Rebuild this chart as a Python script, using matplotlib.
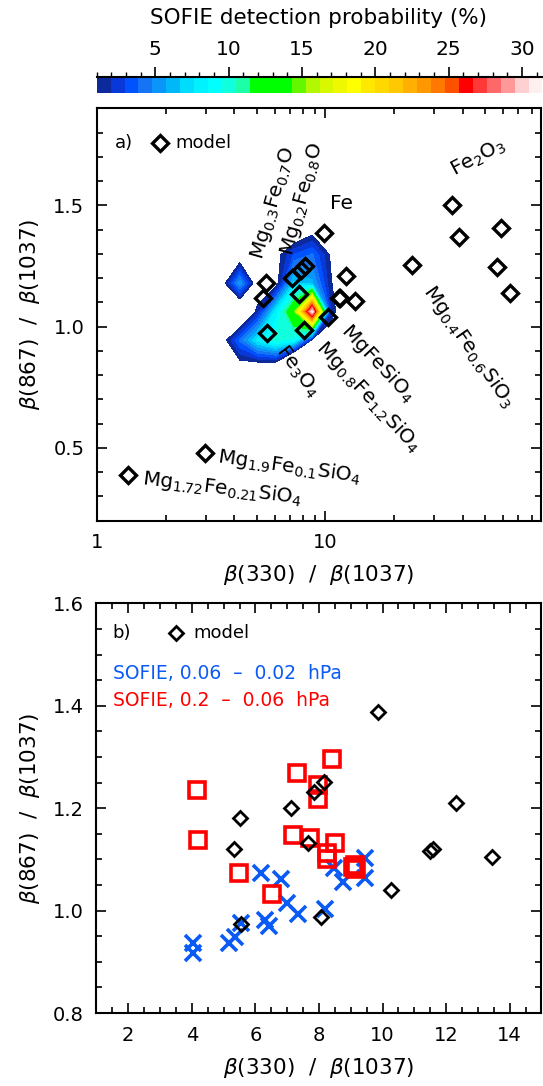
import matplotlib
matplotlib.use('Agg')
import matplotlib.pyplot as plt
import numpy as np
from matplotlib.ticker import MultipleLocator, FixedLocator, NullFormatter, FuncFormatter

plt.rcParams['font.family'] = ['DejaVu Sans']
plt.rcParams['mathtext.fontset'] = 'dejavusans'

# model ratios (both panels)
model_x = [1.37, 2.98, 5.33, 5.50, 5.54, 7.12, 7.66, 7.84, 8.16, 8.06, 9.86,
           10.28, 11.49, 11.59, 12.30, 13.45, 24.0, 35.9, 38.4, 56.6, 58.6, 64.3]
model_y = [0.389, 0.478, 1.120, 1.180, 0.974, 1.200, 1.133, 1.232, 1.251, 0.988, 1.388,
           1.040, 1.117, 1.120, 1.210, 1.105, 1.254, 1.502, 1.371, 1.247, 1.406, 1.138]

# SOFIE 0.06 - 0.02 hPa
blue_x = [4.04, 4.04, 5.17, 5.35, 5.56, 6.30, 6.43, 6.19, 6.79, 7.00, 7.35,
          8.20, 8.47, 8.76, 9.44, 9.44]
blue_y = [0.936, 0.917, 0.936, 0.949, 0.975, 0.982, 0.969, 1.073, 1.061, 1.014, 0.993,
          1.004, 1.083, 1.056, 1.102, 1.063]

# SOFIE 0.2 - 0.06 hPa
red_x = [8.40, 7.31, 4.17, 7.98, 7.98, 4.20, 7.19, 7.71, 8.50, 8.24, 8.24,
         9.07, 9.16, 9.12, 5.49, 6.51]
red_y = [1.296, 1.268, 1.236, 1.246, 1.218, 1.138, 1.148, 1.141, 1.132, 1.112, 1.100,
         1.086, 1.081, 1.090, 1.073, 1.032]

# detection probability (%) on a coarse grid
grid_x = [2.93, 3.52, 4.22, 5.06, 6.07, 7.28, 8.75, 10.5, 12.6]
grid_y = [0.710, 0.827, 0.944, 1.062, 1.179, 1.296, 1.413, 1.530]
prob = [
    [0, 0, 0, 0, 0, 0, 0, 0, 0],
    [0, 0, -0.3, -1.1, -1.7, -10.3, -3, -1, 0],
    [0, 0, 4, 8, 10, 9, 0.5, -1, -1],
    [0, 0, -2.6, 1.6, 8, 14, 31, 2.2, -2],
    [0, 0, 5.5, -0.8, 0.2, 7, 6, 1.2, -1],
    [0, 0, -0.7, 0, 0.3, 3, 4, 0.9, -1],
    [0, 0, 0, 0, -1, -2, -0.3, -0.5, 0],
    [0, 0, 0, 0, 0, 0, 0, 0, 0],
]

band_colors = ['#0c2a9c', '#0838d8', '#0052ff', '#1474f4', '#0a96f8', '#00b8f8',
               '#00dcfc', '#00f2ff', '#00ffff', '#10ffdc', '#1cffa8', '#00ff00',
               '#00ff00', '#00ff00', '#64f800', '#b2f800', '#d8f800', '#f0f800',
               '#ffff00', '#ffe800', '#ffd800', '#ffc800', '#ffb000', '#ff9800',
               '#ff7800', '#ff5000', '#ff0000', '#ff3838', '#ff6868', '#ff9898',
               '#ffd0d0', '#fff0f0']
levels = np.linspace(1.0, 31.4, len(band_colors) + 1)

labels_a = [
    ('Mg$_{0.3}$Fe$_{0.7}$O', 5.92, 1.51, 74),
    ('Mg$_{0.2}$Fe$_{0.8}$O', 7.90, 1.526, 75),
    ('Fe', 11.8, 1.509, 0),
    ('Fe$_2$O$_3$', 46.9, 1.695, 28),
    ('Mg$_{0.4}$Fe$_{0.6}$SiO$_3$', 42.4, 0.916, -55),
    ('MgFeSiO$_4$', 17.0, 0.850, -47),
    ('Mg$_{0.8}$Fe$_{1.2}$SiO$_4$', 15.4, 0.710, -47),
    ('Fe$_3$O$_4$', 7.58, 0.817, -53),
    ('Mg$_{1.9}$Fe$_{0.1}$SiO$_4$', 6.95, 0.422, -8),
    ('Mg$_{1.72}$Fe$_{0.21}$SiO$_4$', 3.55, 0.335, -7),
]

blue = '#0a5af5'
red = '#ff0000'

fig = plt.figure(figsize=(5.43, 10.86), dpi=100)
ax1 = fig.add_axes([0.1786, 0.5205, 0.8177, 0.3797])
ax2 = fig.add_axes([0.1777, 0.0672, 0.8195, 0.3772])
cax = fig.add_axes([0.178, 0.9144, 0.821, 0.0145])


def style(ax):
    for s in ax.spines.values():
        s.set_linewidth(1.5)
    ax.tick_params(which='both', direction='in', top=True, right=True, width=1.2,
                   labelsize=14, pad=9)
    ax.tick_params(which='major', length=7.5)
    ax.tick_params(which='minor', length=4)


# ---- panel a
cs = ax1.contourf(grid_x, grid_y, prob, levels=levels, colors=band_colors)
ax1.plot(model_x, model_y, 'D', ms=8, mfc='none', mec='k', mew=2.4, zorder=5)
ax1.set_xscale('log')
ax1.set_xlim(1, 88)
ax1.set_ylim(0.2, 1.9)
ax1.yaxis.set_major_locator(MultipleLocator(0.5))
ax1.yaxis.set_minor_locator(MultipleLocator(0.1))
ax1.yaxis.set_major_formatter(FuncFormatter(lambda v, p: '%.1f' % v))
ax1.xaxis.set_major_locator(FixedLocator([1, 10]))
ax1.xaxis.set_major_formatter(FuncFormatter(lambda v, p: '%d' % v))
ax1.xaxis.set_minor_locator(FixedLocator([2, 3, 4, 5, 6, 7, 8, 9, 20, 30, 40, 50, 60, 70, 80]))
ax1.xaxis.set_minor_formatter(NullFormatter())
style(ax1)
ax1.set_xlabel(r'$\beta$(330)  /  $\beta$(1037)', fontsize=15.5, labelpad=8)
ax1.set_ylabel(r'$\beta$(867)  /  $\beta$(1037)', fontsize=15.5, labelpad=8)

for txt, x, y, rot in labels_a:
    ax1.text(x, y, txt, fontsize=14.5, rotation=rot, ha='center', va='center',
             rotation_mode='anchor', zorder=6)

ax1.text(0.04, 0.916, 'a)', transform=ax1.transAxes, fontsize=13, va='center')
ax1.plot([0.142], [0.916], 'D', ms=8, mfc='none', mec='k', mew=2.4,
         transform=ax1.transAxes, clip_on=False)
ax1.text(0.176, 0.916, 'model', transform=ax1.transAxes, fontsize=13, va='center')

# ---- colorbar
cb = fig.colorbar(cs, cax=cax, orientation='horizontal')
cb.outline.set_visible(False)
cb.set_ticks([5, 10, 15, 20, 25, 30])
cax.xaxis.set_ticks_position('top')
cax.xaxis.set_minor_locator(MultipleLocator(1))
cax.tick_params(which='major', direction='out', length=7, width=1.2, labelsize=14.5, pad=6)
cax.tick_params(which='minor', direction='out', length=3.5, width=1.0)
cax.axhline(1, color='k', lw=1.5, clip_on=False)
fig.text(318 / 543, 1 - 18 / 1086, 'SOFIE detection probability (%)', fontsize=15.5,
         ha='center', va='center')

# ---- panel b
ax2.plot(blue_x, blue_y, 'x', ms=11.5, mec=blue, mew=2.6, zorder=3)
ax2.plot(red_x, red_y, 's', ms=11.5, mfc='none', mec=red, mew=2.6, zorder=4)
ax2.plot(model_x, model_y, 'D', ms=7.3, mfc='none', mec='k', mew=2.0, zorder=5)
ax2.set_xlim(1, 15)
ax2.set_ylim(0.8, 1.6)
ax2.xaxis.set_major_locator(MultipleLocator(2))
ax2.xaxis.set_minor_locator(MultipleLocator(0.5))
ax2.yaxis.set_major_locator(MultipleLocator(0.2))
ax2.yaxis.set_minor_locator(MultipleLocator(0.05))
ax2.yaxis.set_major_formatter(FuncFormatter(lambda v, p: '%.1f' % v))
style(ax2)
ax2.set_xlabel(r'$\beta$(330)  /  $\beta$(1037)', fontsize=15.5, labelpad=8)
ax2.set_ylabel(r'$\beta$(867)  /  $\beta$(1037)', fontsize=15.5, labelpad=8)

ax2.text(0.036, 0.928, 'b)', transform=ax2.transAxes, fontsize=13, va='center')
ax2.plot([0.179], [0.928], 'D', ms=7.3, mfc='none', mec='k', mew=2.0,
         transform=ax2.transAxes, clip_on=False)
ax2.text(0.2175, 0.928, 'model', transform=ax2.transAxes, fontsize=13, va='center')
ax2.text(0.036, 0.828, 'SOFIE, 0.06  \u2013  0.02  hPa', transform=ax2.transAxes,
         fontsize=13.5, color=blue, va='center')
ax2.text(0.036, 0.764, 'SOFIE, 0.2  \u2013  0.06  hPa', transform=ax2.transAxes,
         fontsize=13.5, color=red, va='center')

fig.savefig('out.png', dpi=100)
